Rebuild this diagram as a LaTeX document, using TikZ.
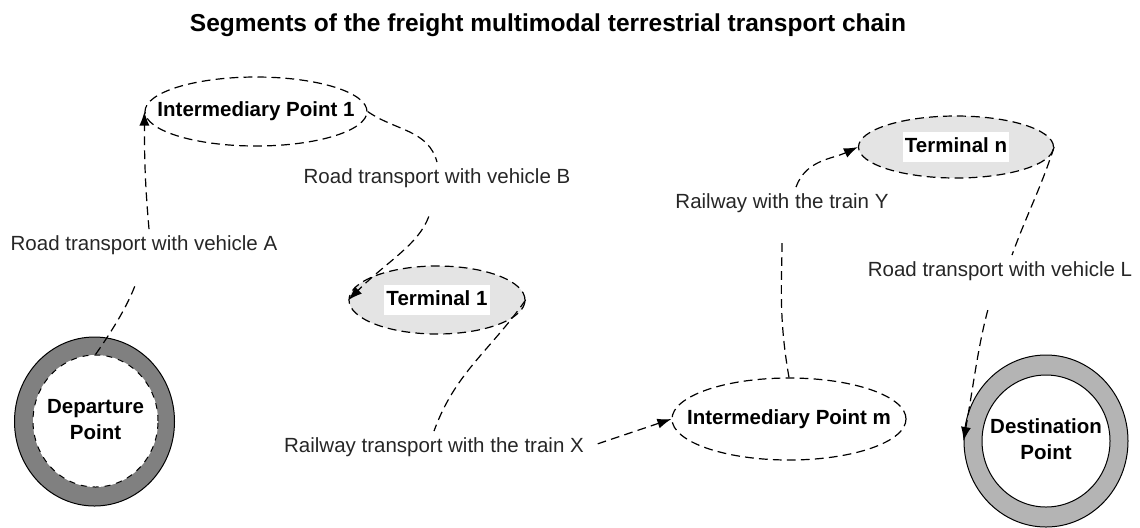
\documentclass[tikz,border=0pt]{standalone}
\usepackage{fontspec}
\setmainfont{Liberation Sans}
\usepackage{tikz}
\usetikzlibrary{shapes, arrows.meta, positioning}
\definecolor{ringdark}{RGB}{128,128,128}
\definecolor{ringlight}{RGB}{180,180,180}
\definecolor{termgray}{RGB}{228,228,228}
\newcommand{\lblfont}{\fontsize{10.25}{13}\selectfont}
\newcommand{\titlefont}{\fontsize{12.25}{15}\selectfont}
\newcommand{\whitebox}[1]{{\setlength\fboxsep{1.2pt}\colorbox{white}{\strut #1}}}
\newcommand{\nowide}[1]{\makebox[0pt]{#1}}
\newcommand{\twolines}[2]{\nowide{\begin{tabular}{@{}c@{}}#1\\#2\end{tabular}}}

\begin{document}
\begin{tikzpicture}[x=0.5pt, y=-0.5pt]
    \tikzstyle{place} = [ellipse, draw, dash pattern=on 4.4pt off 2.6pt, line width=0.6pt, inner sep=0pt, font=\lblfont\bfseries]
    \tikzstyle{terminal} = [place, fill=termgray]
    \tikzstyle{ring} = [ellipse, draw, line width=0.5pt, inner sep=0pt]
    \tikzstyle{ringin} = [ellipse, draw, fill=white, line width=0.5pt, inner sep=0pt, font=\lblfont\bfseries]
    \tikzstyle{lbl} = [font=\lblfont, text=black!85, inner xsep=2pt, inner ysep=3pt]
    \tikzstyle{link} = [dash pattern=on 4.4pt off 2.6pt, line width=0.6pt, >={Latex[length=7pt, width=5pt]}]

    \useasboundingbox (0,0) rectangle (1140,527);

    \node [font=\titlefont\bfseries] (title) at (548,25) {Segments of the freight multimodal terrestrial transport chain};

    \node [place, minimum width=111pt, minimum height=34.5pt] (ip1) at (256,111.5) {\nowide{Intermediary Point 1}};
    \node [terminal, minimum width=88pt, minimum height=34pt] (t1) at (437,300) {\nowide{\whitebox{Terminal 1}}};
    \node [place, minimum width=117pt, minimum height=41pt] (ipm) at (789,419) {\nowide{Intermediary Point m}};
    \node [terminal, minimum width=97.5pt, minimum height=31pt] (tn) at (956,147) {\nowide{\whitebox{Terminal n}}};

    \node [ring, fill=ringdark, minimum width=80pt, minimum height=84.5pt] (dep) at (94.5,421.5) {};
    \node [ringin, dashed, minimum width=62.5pt, minimum height=66pt] (depin) at (95.5,421) {\twolines{Departure}{Point}};
    \node [ring, fill=ringlight, minimum width=82pt, minimum height=86pt] (dest) at (1046,441) {};
    \node [ringin, minimum width=64pt, minimum height=66pt] (destin) at (1046,441) {\twolines{Destination}{Point}};

    \node [lbl] (labA) at (144,245) {Road transport with vehicle A};
    \node [lbl] (labB) at (437,178) {Road transport with vehicle B};
    \node [lbl] (labX) at (434,447) {Railway transport with the train X};
    \node [lbl] (labY) at (782,203) {Railway with the train Y};
    \node [lbl] (labL) at (1000,271) {Road transport with vehicle L};

    \draw [link, shorten >=12pt] (depin.north) to[out=55, in=-110] (labA.south);
    \draw [link, ->] ([xshift=2.5pt]labA.north) to[out=95, in=-90] (ip1.west);
    \draw [link] (ip1.east) to[out=-35, in=105] (labB.north);
    \draw [link, ->, shorten <=12pt] (labB.south) to[out=-110, in=45] (t1.west);
    \draw [link] (t1.east) to[out=-125, in=70] (labX.north);
    \draw [link, ->, shorten <=5pt] (labX.east) -- (ipm.west);
    \draw [link, shorten >=12pt] (ipm.north) to[out=100, in=-90] (labY.south);
    \draw [link, ->] ([xshift=7pt]labY.north) to[out=70, in=-155] (tn.west);
    \draw [link] (tn.east) to[out=-108, in=70] ([xshift=6pt]labL.north);
    \draw [link, ->, shorten <=12pt] ([xshift=-3pt]labL.south) to[out=-105, in=80] (dest.west);
\end{tikzpicture}
\end{document}
